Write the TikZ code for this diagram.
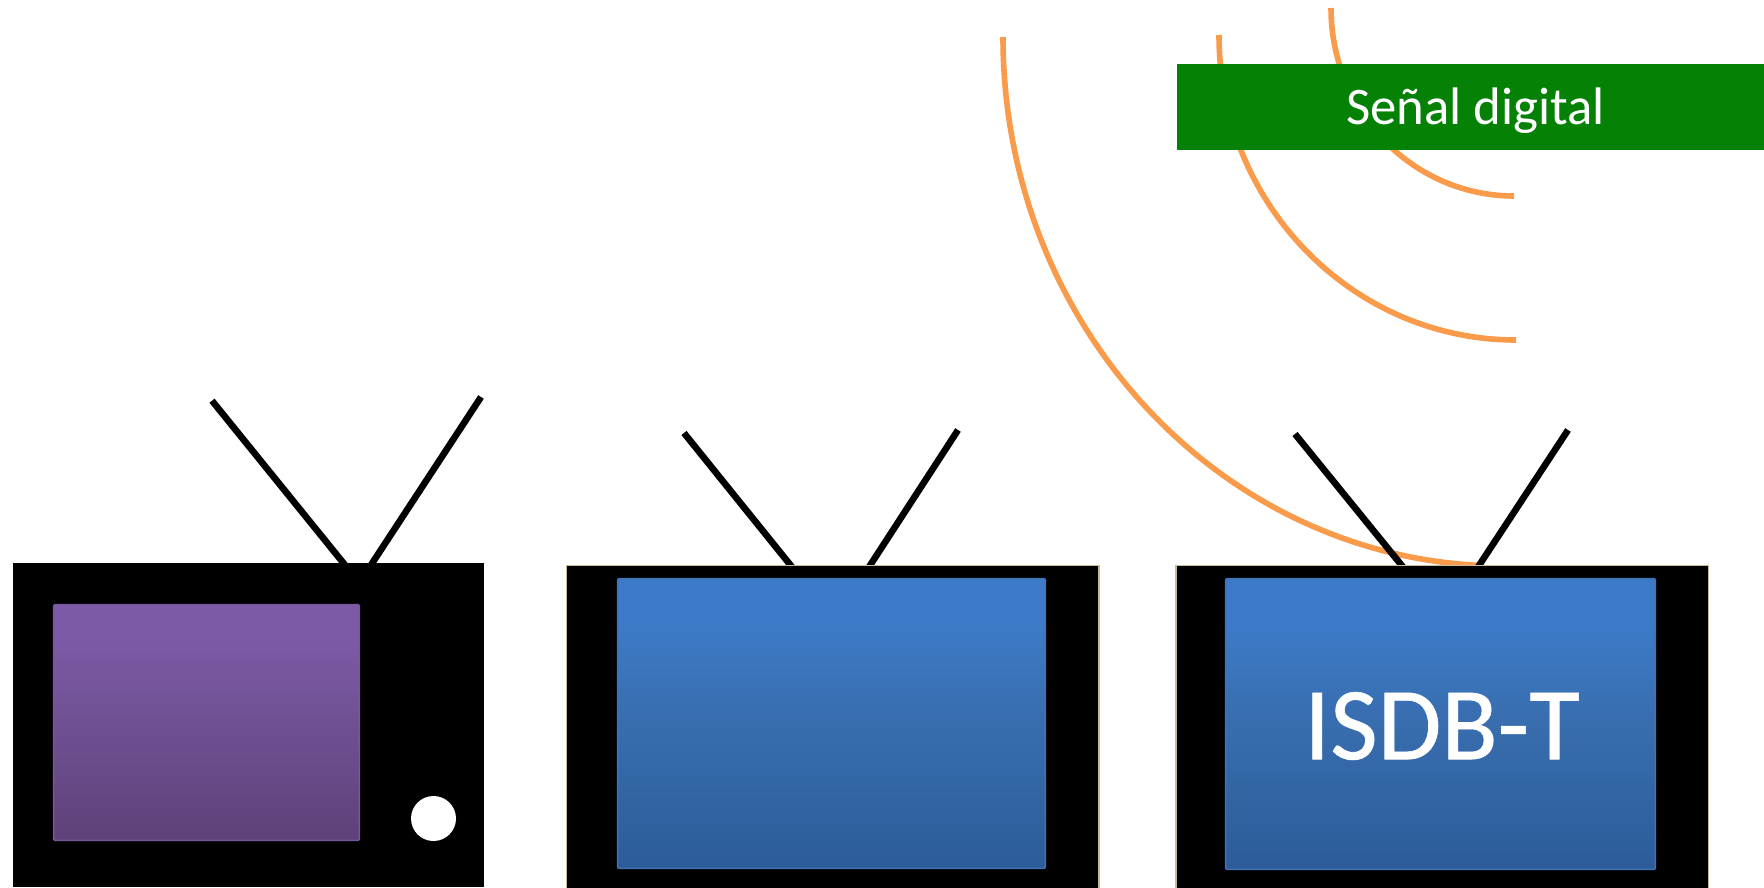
\documentclass[tikz,border=0pt]{standalone}
\usepackage{fontspec}
\setmainfont{Carlito}
\definecolor{arcorange}{HTML}{F99B4A}
\definecolor{bannergreen}{HTML}{058205}
\definecolor{bodyedge}{HTML}{C4BD97}
\definecolor{blueA}{HTML}{2C5C99}
\definecolor{blueB}{HTML}{386DAE}
\definecolor{blueC}{HTML}{3D7BC9}
\definecolor{blueEdge}{HTML}{4273B4}
\definecolor{purpleA}{HTML}{5E4179}
\definecolor{purpleB}{HTML}{6F5193}
\definecolor{purpleC}{HTML}{7D5AA6}
\definecolor{purpleEdge}{HTML}{76589C}
\pgfdeclareverticalshading{bluescreen}{100bp}{
  color(0bp)=(blueA);color(25bp)=(blueA);color(50bp)=(blueB);color(68bp)=(blueC);color(100bp)=(blueC)}
\pgfdeclareverticalshading{purplescreen}{100bp}{
  color(0bp)=(purpleA);color(25bp)=(purpleA);color(50bp)=(purpleB);color(68bp)=(purpleC);color(100bp)=(purpleC)}
\tikzset{
  arcwave/.style={draw=arcorange,line width=5.6pt},
  antenna/.style={draw=black,line width=6.6pt},
  tvbody/.style={fill=black},
  edgedbody/.style={fill=black,draw=bodyedge,line width=1.2pt},
  bluepanel/.style={shading=bluescreen,draw=blueEdge,line width=1.5pt,rounded corners=1pt},
  purplepanel/.style={shading=purplescreen,draw=purpleEdge,line width=1.5pt,rounded corners=1pt},
  banner/.style={fill=bannergreen},
  knob/.style={fill=white},
  caption/.style={text=white,inner sep=0pt,anchor=center}
}
\begin{document}
\begin{tikzpicture}[x=1pt,y=-1pt]
\useasboundingbox (0,0) rectangle (1764,887);
\fill[white] (0,0) rectangle (1764,887);
% signal arcs
\begin{scope}
\clip (0,0) rectangle (1478,887);
\draw[arcwave] (1003,37) .. controls (1003,329) and (1227,566) .. (1503,566);
\end{scope}
\draw[arcwave] (1219,35) .. controls (1219,203.4) and (1352,340) .. (1516,340);
\draw[arcwave] (1331,8) .. controls (1331,112) and (1413,196) .. (1514,196);
% antennas
\draw[antenna] (212,400.7) -- (345,565);
\draw[antenna] (481,397) -- (371,565);
\draw[antenna] (684,433) -- (792,567);
\draw[antenna] (958,430) -- (869,567);
\draw[antenna] (1295,434) -- (1403,567);
\draw[antenna] (1568,430) -- (1478,567);
% TV 1
\fill[tvbody] (13,563) rectangle (484,887);
\shade[purplepanel] (53.7,604.7) rectangle (359.3,840.3);
\fill[knob] (433.5,818.5) circle (22.5);
% TV 2
\draw[edgedbody] (566.5,565.5) rectangle (1099,890);
\shade[bluepanel] (617.7,578.7) rectangle (1045.3,868.3);
% TV 3
\draw[edgedbody] (1176,565.5) rectangle (1708.5,890);
\shade[bluepanel] (1225.7,578.7) rectangle (1655.3,869.3);
\node[caption,font=\fontsize{103.5}{104}\selectfont\addfontfeature{FakeBold=0.6}] (isdb) at (1442,726) {ISDB-T};
% banner
\fill[banner] (1177,64) rectangle (1764,150);
\node[caption,font=\fontsize{52.8}{53}\selectfont] (senal) at (1475.5,111) {Señal digital};
\end{tikzpicture}
\end{document}
